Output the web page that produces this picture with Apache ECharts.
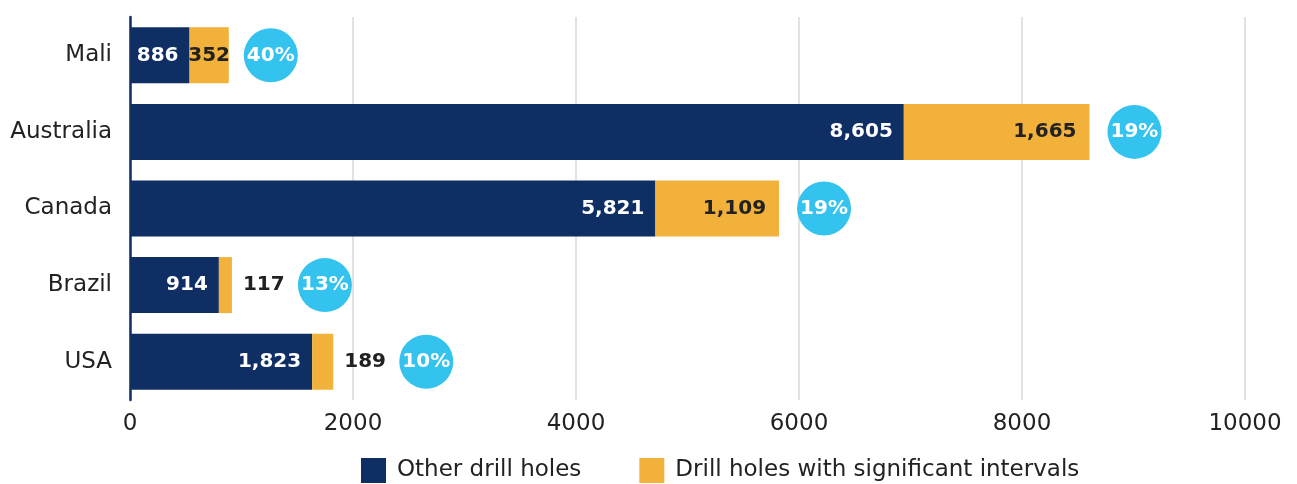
<!DOCTYPE html>
<html>
<head>
<meta charset="utf-8">
<script src="https://cdn.jsdelivr.net/npm/echarts@6/dist/echarts.min.js"></script>
<style>
html,body{margin:0;padding:0;background:#fff;}
#chart{width:1297px;height:484px;}
</style>
</head>
<body>
<div id="chart"></div>
<script>
const countries = ['Mali', 'Australia', 'Canada', 'Brazil', 'USA'];
const totalHoles = [886, 8605, 5821, 914, 1823];
const significantHoles = [352, 1665, 1109, 117, 189];
const otherHoles = [534, 6940, 4712, 797, 1634];
const shareLabels = ['40%', '19%', '19%', '13%', '10%'];
const xTicks = [0, 2000, 4000, 6000, 8000, 10000];

// presentation settings (kept separate from data)
const sigLabelPos = ['inside', 'insideRight', 'insideRight', 'right', 'right'];
const circleOffset = [42, 45, 45, 93, 93];

const FONT = 'DejaVu Sans';
const NAVY = '#0f2e63';
const ORANGE = '#f2b13a';
const CYAN = '#33c3ee';
const TXT = '#222222';

const fmt = v => Number(v).toLocaleString('en-US');

const chart = echarts.init(document.getElementById('chart'));
chart.setOption({
  animation: false,
  textStyle: { fontFamily: FONT },
  grid: { left: 130, right: 52, top: 17, bottom: 84, containLabel: false },
  legend: {
    data: ['Other drill holes', 'Drill holes with significant intervals'],
    left: 356, top: 453,
    icon: 'rect', itemWidth: 25, itemHeight: 25, itemGap: 58,
    textStyle: { fontFamily: FONT, fontSize: 23, color: TXT, padding: [0, 0, 0, 6] }
  },
  xAxis: {
    type: 'value', min: xTicks[0], max: xTicks[xTicks.length - 1], interval: 2000,
    axisLine: { show: false }, axisTick: { show: false },
    axisLabel: { fontFamily: FONT, fontSize: 23, color: TXT, margin: 13, formatter: v => String(v) },
    splitLine: { show: true, lineStyle: { color: '#d9d9d9', width: 1.5 } }
  },
  yAxis: {
    type: 'category', data: countries, inverse: true,
    axisLine: { show: true, lineStyle: { color: NAVY, width: 2.5 } },
    axisTick: { show: false },
    axisLabel: { fontFamily: FONT, fontSize: 23, color: TXT, margin: 18 }
  },
  series: [
    {
      name: 'Other drill holes', type: 'bar', stack: 'a',
      barWidth: 56, itemStyle: { color: NAVY },
      data: otherHoles.map((v, i) => ({
        value: v,
        label: {
          show: true, position: 'insideRight', distance: 11,
          formatter: () => fmt(totalHoles[i]),
          color: '#fff', fontWeight: 'bold', fontFamily: FONT, fontSize: 20
        }
      }))
    },
    {
      name: 'Drill holes with significant intervals', type: 'bar', stack: 'a',
      barWidth: 56, itemStyle: { color: ORANGE },
      data: significantHoles.map((v, i) => ({
        value: v,
        label: {
          show: true, position: sigLabelPos[i],
          distance: sigLabelPos[i] === 'right' ? 11 : 13,
          formatter: () => fmt(v),
          color: TXT, fontWeight: 'bold', fontFamily: FONT, fontSize: 20
        }
      }))
    },
    {
      name: 'share', type: 'scatter', z: 5,
      symbol: 'circle', symbolSize: 54,
      itemStyle: { color: CYAN, opacity: 1 },
      data: totalHoles.map((v, i) => ({
        value: [v, countries[i]],
        symbolOffset: [circleOffset[i], 0],
        label: {
          show: true, position: 'inside',
          formatter: () => shareLabels[i],
          color: '#fff', fontWeight: 'bold', fontFamily: FONT, fontSize: 20
        }
      }))
    }
  ]
});
</script>
</body>
</html>
